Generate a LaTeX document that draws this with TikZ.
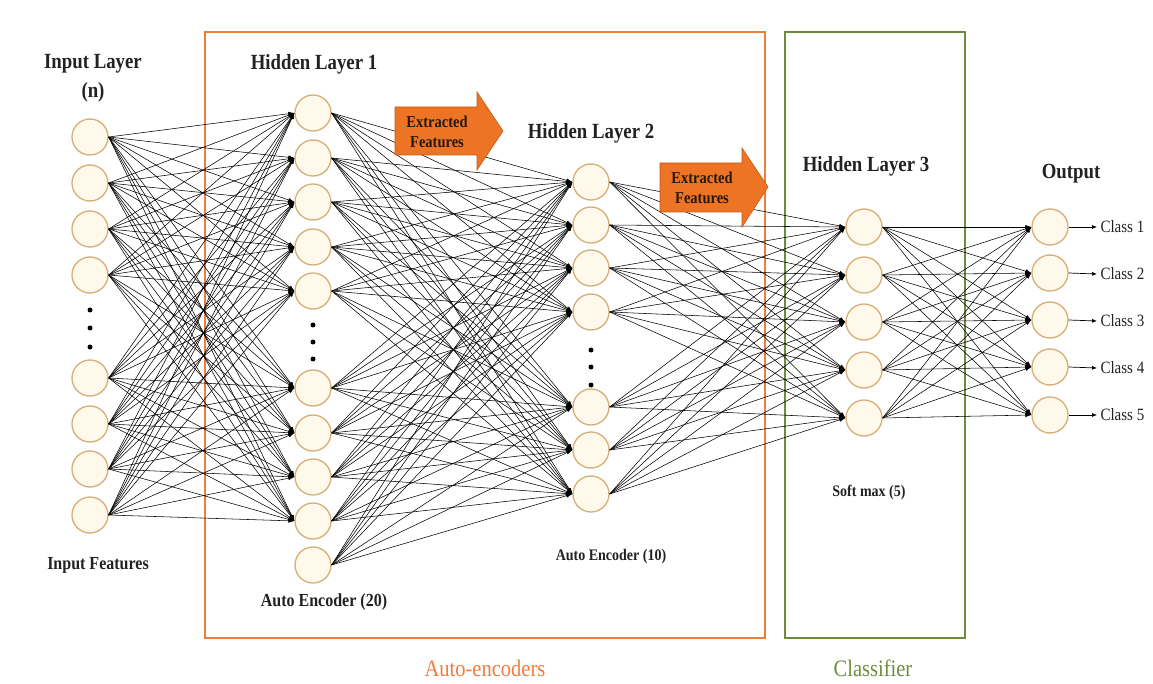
\documentclass[tikz,border=0pt]{standalone}
\usepackage{fontspec}
\setmainfont{Liberation Serif}
\usetikzlibrary{arrows.meta}

\definecolor{ringcol}{HTML}{D6AE78}
\definecolor{cellfill}{HTML}{FFF9EC}
\definecolor{aeorange}{HTML}{EE7E3C}
\definecolor{arrowfill}{HTML}{EC7424}
\definecolor{arrowline}{HTML}{C45A18}
\definecolor{clsgreen}{HTML}{6F8C3A}
\definecolor{labeltxt}{HTML}{222222}

% taller lettering
\newcommand{\tall}[1]{\scalebox{1}[1.15]{#1}}

\tikzset{
  neuron/.style={circle, draw=ringcol, line width=1.3pt, fill=cellfill, minimum size=36pt, inner sep=0pt},
  edge/.style={line width=0.55pt, black, -{Latex[length=6pt,width=4pt]}},
  outedge/.style={line width=0.7pt, black, -{Latex[length=5pt,width=4pt]}},
  head/.style={font=\fontsize{18.8}{20}\selectfont\bfseries, text=labeltxt},
  sub/.style={font=\fontsize{16}{18}\selectfont\bfseries, text=labeltxt},
  small/.style={font=\fontsize{14}{16}\selectfont\bfseries, text=labeltxt},
  cls/.style={font=\fontsize{15}{17}\selectfont, text=labeltxt, anchor=west},
  group/.style={font=\fontsize{20.5}{22}\selectfont},
  dot/.style={circle, fill=black, minimum size=5pt, inner sep=0pt},
  featarrow/.style={fill=arrowfill, draw=arrowline, line width=0.6pt},
  feattxt/.style={font=\fontsize{14.5}{15}\selectfont\bfseries, text=black!80!brown, inner sep=0pt}
}

\begin{document}
\begin{tikzpicture}[x=1pt, y=-1pt]
  % canvas
  \fill[white] (0,0) rectangle (1153,684);
  \useasboundingbox (0,0) rectangle (1153,684);

  % group frames
  \draw[aeorange, line width=1.6pt] (205,32) rectangle (765,638);
  \draw[clsgreen, line width=1.3pt] (785,32) rectangle (965,638);
  \node[group, text=aeorange] (aelabel) at (485,668) {\tall{Auto-encoders}};
  \node[group, text=clsgreen] (clslabel) at (873,668) {\tall{Classifier}};

  % layers of neurons
  \foreach \y [count=\k] in {137,183,229,275,378,424,469,515}
    \node[neuron] (i\k) at (90,\y) {};
  \foreach \y [count=\k] in {113,158,202,247,291,388,433,477,521,565}
    \node[neuron] (a\k) at (313,\y) {};
  \foreach \y [count=\k] in {182,225,268,312,407,450,494}
    \node[neuron] (b\k) at (591,\y) {};
  \foreach \y [count=\k] in {227,275,322,370,418}
    \node[neuron] (c\k) at (864,\y) {};
  \foreach \y [count=\k] in {227,273,320,367,415}
    \node[neuron] (o\k) at (1050,\y) {};

  % ellipsis dots inside the large layers
  \foreach \y [count=\k] in {310,328,347}
    \node[dot] (di\k) at (90,\y) {};
  \foreach \y [count=\k] in {325,342,359}
    \node[dot] (da\k) at (313,\y) {};
  \foreach \y [count=\k] in {350,367,385}
    \node[dot] (db\k) at (591,\y) {};

  % fully connected weights
  \foreach \s in {1,...,8}
    \foreach \t in {1,...,9}
      \draw[edge] (i\s.east) -- (a\t.west);
  \foreach \s in {1,...,10}
    \foreach \t in {1,...,7}
      \draw[edge] (a\s.east) -- (b\t.west);
  \foreach \s in {1,...,7}
    \foreach \t in {1,...,5}
      \draw[edge] (b\s.east) -- (c\t.west);
  \foreach \s in {1,...,5}
    \foreach \t in {1,...,5}
      \draw[edge] (c\s.east) -- (o\t.west);

  % class outputs
  \foreach \k in {1,...,5} {
    \node[cls] (cl\k) at (1097,{227+47*(\k-1)}) {\tall{Class \k}};
    \draw[outedge] (o\k.east) -- (cl\k.west);
  }

  % "extracted features" block arrows
  \draw[featarrow] (395,107) -- (477,107) -- (477,92) -- (503,131) -- (477,170)
    -- (477,155) -- (395,155) -- cycle;
  \node[feattxt] (fa1) at (437,122) {\tall{Extracted}};
  \node[feattxt] (fa2) at (437,142) {\tall{Features}};
  \draw[featarrow] (660,163) -- (742,163) -- (742,148) -- (768,187) -- (742,227)
    -- (742,212) -- (660,212) -- cycle;
  \node[feattxt] (fb1) at (702,178) {\tall{Extracted}};
  \node[feattxt] (fb2) at (702,198) {\tall{Features}};

  % layer titles and captions
  \node[head] (tin) at (93,64) {\tall{Input Layer}};
  \node[head] (tn) at (93,92) {\tall{(n)}};
  \node[head] (th1) at (314,64) {\tall{Hidden Layer 1}};
  \node[head] (th2) at (591,133) {\tall{Hidden Layer 2}};
  \node[head] (th3) at (866,166) {\tall{Hidden Layer 3}};
  \node[head] (tout) at (1071,174) {\tall{Output}};
  \node[sub] (cin) at (98,565) {\tall{Input Features}};
  \node[sub] (ca1) at (324,602) {\tall{Auto Encoder (20)}};
  \node[small] (ca2) at (611,557) {\tall{Auto Encoder (10)}};
  \node[small] (csm) at (869,493) {\tall{Soft max (5)}};
\end{tikzpicture}
\end{document}
